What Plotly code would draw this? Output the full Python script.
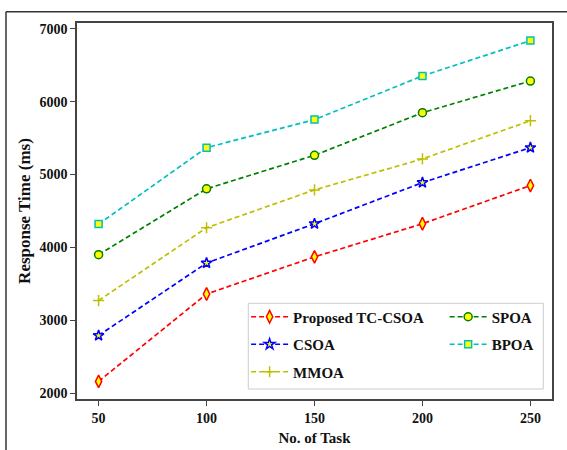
import plotly.graph_objects as go

tasks = [50, 100, 150, 200, 250]
proposed = [2160, 3360, 3870, 4325, 4850]
csoa = [2790, 3785, 4325, 4890, 5370]
mmoa = [3270, 4270, 4790, 5215, 5740]
spoa = [3900, 4805, 5265, 5850, 6285]
bpoa = [4320, 5370, 5755, 6355, 6840]

names = ["Proposed TC-CSOA", "CSOA", "MMOA", "SPOA", "BPOA"]
series = [proposed, csoa, mmoa, spoa, bpoa]
colors = ["#ff0000", "#0000ff", "#bfbf00", "#008000", "#00bfbf"]
symbols = ["diamond-tall", "star", "cross-thin", "circle", "square"]
sizes = [9, 8, 8, 8, 7]
legends = ["legend", "legend", "legend", "legend2", "legend2"]

fig = go.Figure()
for i, (nm, ys) in enumerate(zip(names, series)):
    col = colors[i]
    fill = col if symbols[i] == "cross-thin" else "#ffff00"
    fig.add_trace(go.Scatter(
        x=tasks, y=ys, name=nm, mode="lines+markers",
        line=dict(color=col, width=1.7, dash="5px,3px"),
        marker=dict(symbol=symbols[i], size=sizes[i], color=fill,
                    line=dict(color=col, width=1.5)),
        legend=legends[i], legendgroup=nm,
    ))

font_family = "Liberation Serif, Times New Roman, serif"
leg_font = dict(family=font_family, size=15, color="#111", weight="bold")

fig.update_layout(
    width=567, height=450,
    margin=dict(l=77, r=15, t=23, b=51, autoexpand=False),
    plot_bgcolor="white", paper_bgcolor="white",
    showlegend=True,
    font=dict(family=font_family, size=14, color="#111"),
    legend=dict(x=0.356, y=0.262, xanchor="left", yanchor="top",
                bgcolor="rgba(0,0,0,0)", borderwidth=0, itemwidth=37,
                traceorder="grouped", tracegroupgap=5, font=leg_font),
    legend2=dict(x=0.774, y=0.262, xanchor="left", yanchor="top",
                 bgcolor="rgba(0,0,0,0)", borderwidth=0, itemwidth=37,
                 traceorder="grouped", tracegroupgap=5, font=leg_font),
    xaxis=dict(range=[40, 260], tickvals=tasks, ticks="outside", ticklen=5,
               tickwidth=1.3, tickcolor="#444", automargin=False,
               showline=True, linecolor="#444", linewidth=1.5, mirror=True,
               showgrid=False, zeroline=False,
               tickfont=dict(family=font_family, size=14, weight="bold", color="#111"),
               title=dict(text="No. of Task", standoff=8,
                          font=dict(family=font_family, size=15, weight="bold", color="#111"))),
    yaxis=dict(range=[1918, 7082], tickvals=[2000, 3000, 4000, 5000, 6000, 7000],
               ticks="outside", ticklen=5, tickwidth=1.3, tickcolor="#444",
               automargin=False,
               showline=True, linecolor="#444", linewidth=1.5, mirror=True,
               showgrid=False, zeroline=False,
               tickfont=dict(family=font_family, size=14, weight="bold", color="#111"),
               title=dict(text="Response Time (ms)", standoff=5,
                          font=dict(family=font_family, size=17, weight="bold", color="#111"))),
    shapes=[
        dict(type="rect", xref="paper", yref="paper",
             x0=0.3606, x1=0.9817, y0=0.0266, y1=0.2545,
             line=dict(color="#cccccc", width=1), fillcolor="white", layer="below"),
        dict(type="line", xref="paper", yref="paper",
             x0=-0.1495, x1=1.08, y0=1.030, y1=1.030,
             line=dict(color="#333", width=1.5)),
        dict(type="line", xref="paper", yref="paper",
             x0=-0.1495, x1=-0.1495, y0=1.030, y1=-0.2,
             line=dict(color="#333", width=1.5)),
    ],
)

fig.write_html("out.html", config={"displayModeBar": False},
               post_script="document.body.style.margin='0px';")
